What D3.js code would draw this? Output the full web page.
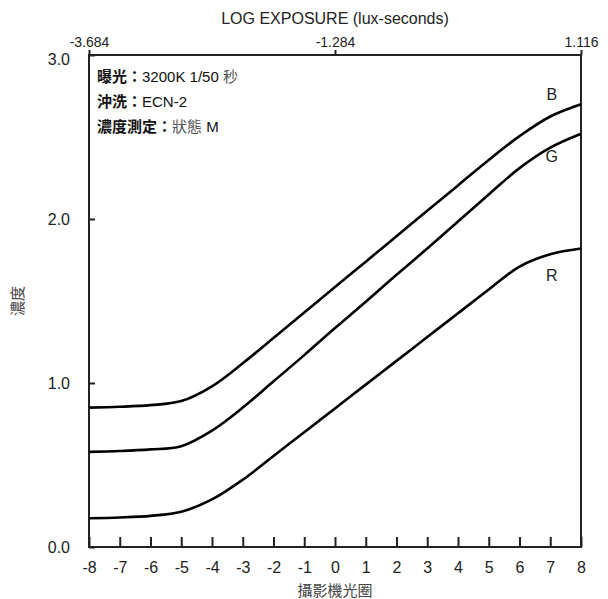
<!DOCTYPE html>
<html><head><meta charset="utf-8">
<script src="https://cdn.jsdelivr.net/npm/d3@7"></script>
<style>body{margin:0;background:#fff}svg{display:block}text{font-family:"Liberation Sans",Arial,"Noto Sans CJK TC",sans-serif}</style>
</head><body><svg id="c" width="608" height="599"></svg>
<script>
const stops = [-8,-7,-6,-5,-4,-3,-2,-1,0,1,2,3,4,5,6,7,8];
const seriesB = [0.85,0.855,0.865,0.89,0.98,1.12,1.275,1.43,1.585,1.74,1.895,2.05,2.205,2.36,2.505,2.625,2.70];
const seriesG = [0.58,0.585,0.595,0.615,0.71,0.85,1.01,1.17,1.335,1.495,1.66,1.82,1.985,2.15,2.31,2.435,2.52];
const seriesR = [0.175,0.18,0.19,0.215,0.29,0.41,0.555,0.70,0.845,0.99,1.135,1.28,1.425,1.57,1.71,1.785,1.82];
const seriesNames = ["B","G","R"];
const yTicks = [0,1,2,3];
const topTicks = [-3.684,-1.284,1.116];
const infoLines = [
  [["曝光：",true,"#111"],["3200K 1/50 ",false,"#111"],["秒",false,"#555"]],
  [["沖洗：",true,"#111"],["ECN-2",false,"#111"]],
  [["濃度測定：",true,"#111"],["狀態 ",false,"#555"],["M",false,"#111"]]
];

const svg = d3.select("#c");
const L=89, R=581, T=55, B=547;
const x = d3.scaleLinear().domain([-8,8]).range([L,R]);
const y = d3.scaleLinear().domain([0,3]).range([B,T]);
const xTop = d3.scaleLinear().domain([-3.684,1.116]).range([L,R]);
const ink = "#222";
const hy = s => s.replace("\u2212","-");

// frame
svg.append("rect").attr("x",L).attr("y",T).attr("width",R-L).attr("height",B-T)
  .attr("fill","none").attr("stroke",ink).attr("stroke-width",2);

// bottom axis
const bx = svg.append("g").attr("transform",`translate(0,${B})`)
  .call(d3.axisBottom(x).tickValues(stops).tickSize(-10).tickPadding(10).tickFormat(d=>String(d)));
bx.select(".domain").remove();
bx.selectAll(".tick line").attr("stroke",ink).attr("stroke-width",2);
bx.selectAll(".tick text").attr("font-size",16).attr("fill",ink).attr("dy","1.0em")
  .attr("font-family",'"Liberation Sans",Arial,sans-serif');

// left axis
const ly = svg.append("g").attr("transform",`translate(${L},0)`)
  .call(d3.axisLeft(y).tickValues(yTicks).tickSize(-6).tickPadding(19).tickFormat(d=>hy(d3.format(".1f")(d))));
ly.select(".domain").remove();
ly.selectAll(".tick line").attr("stroke",ink).attr("stroke-width",2);
ly.selectAll(".tick text").attr("font-size",16).attr("fill",ink)
  .attr("font-family",'"Liberation Sans",Arial,sans-serif');
ly.selectAll(".tick").filter(d=>d===3).select("text").attr("dy","0.62em");

// top axis
const tx = svg.append("g").attr("transform",`translate(0,${T})`)
  .call(d3.axisTop(xTop).tickValues(topTicks).tickSize(5).tickPadding(3).tickFormat(d=>hy(d3.format(".3f")(d))));
tx.select(".domain").remove();
tx.selectAll(".tick line").attr("stroke",ink).attr("stroke-width",2);
tx.selectAll(".tick text").attr("font-size",14).attr("fill",ink)
  .attr("font-family",'"Liberation Sans",Arial,sans-serif');

// titles
svg.append("text").attr("x",(L+R)/2).attr("y",24).attr("text-anchor","middle")
  .attr("font-size",16).attr("fill",ink).text("LOG EXPOSURE (lux-seconds)");
svg.append("text").attr("x",(L+R)/2).attr("y",596).attr("text-anchor","middle")
  .attr("font-size",15).attr("fill","#444").text("攝影機光圈");
svg.append("text").attr("transform","translate(23,301) rotate(-90)").attr("text-anchor","middle")
  .attr("font-size",15).attr("fill","#444").text("濃度");

// curves
const line = d3.line().x((d,i)=>x(stops[i])).y(d=>y(d)).curve(d3.curveCatmullRom.alpha(0.5));
[seriesB,seriesG,seriesR].forEach(s=>{
  svg.append("path").attr("d",line(s)).attr("fill","none").attr("stroke","#000").attr("stroke-width",2.6);
});
// series labels
const lblY = {B: 2.76, G: 2.38, R: 1.66};
seriesNames.forEach(n=>{
  svg.append("text").attr("x",x(7.05)).attr("y",y(lblY[n])).attr("dy","0.36em")
    .attr("text-anchor","middle").attr("font-size",16).attr("fill",ink).text(n);
});

// info block
infoLines.forEach((ln,i)=>{
  const t = svg.append("text").attr("x",97).attr("y",82+i*25).attr("font-size",15);
  ln.forEach(([s,b,c])=>t.append("tspan").attr("font-weight",b?"bold":"normal").attr("fill",c).text(s));
});
</script></body></html>
